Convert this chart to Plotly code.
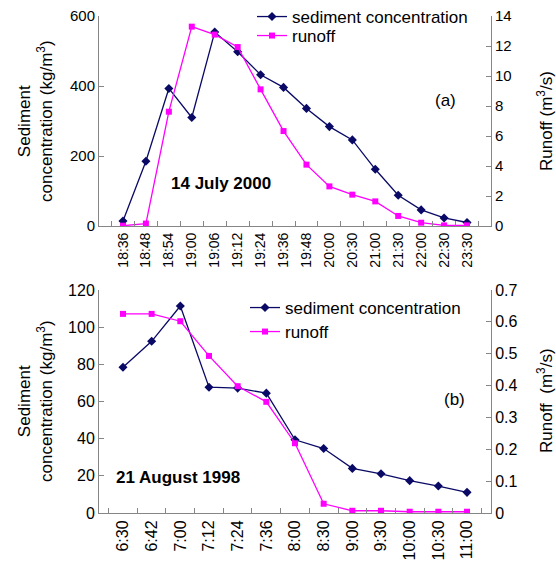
import plotly.graph_objects as go

# ---------------- data ----------------
times_a = ["18:36", "18:48", "18:54", "19:00", "19:06", "19:12", "19:24", "19:36",
           "19:48", "20:00", "20:30", "21:00", "21:30", "22:00", "22:30", "23:30"]
sediment_a = [14, 185, 393, 310, 554, 498, 432, 396, 336, 284, 246, 162, 88, 46, 23, 10]
runoff_a = [0.02, 0.16, 7.62, 13.29, 12.76, 11.93, 9.11, 6.33, 4.09, 2.64, 2.09, 1.64,
            0.67, 0.22, 0.04, 0.04]

times_b = ["6:30", "6:42", "7:00", "7:12", "7:24", "7:36", "8:00", "8:30", "9:00",
           "9:30", "10:00", "10:30", "11:00"]
sediment_b = [78.4, 92.4, 111.4, 67.7, 67.2, 64.5, 39.4, 34.7, 24.0, 21.1, 17.4, 14.5, 11.1]
runoff_b = [0.625, 0.625, 0.602, 0.493, 0.398, 0.349, 0.219, 0.029, 0.007, 0.007,
            0.004, 0.004, 0.004]

# ---------------- styling ----------------
NAVY = "#0a0a66"
MAG = "#ff00ff"
AXC = "#868686"
FONT = "Liberation Sans, Arial, sans-serif"

W, H = 556, 568
ML, MR, MT, MB = 99, 65, 16, 55
PW, PH = W - ML - MR, H - MT - MB


def px(x):
    return (x - ML) / PW


def py(y):
    return (H - MB - y) / PH


fig = go.Figure()

fig.add_trace(go.Scatter(x=times_a, y=sediment_a, name="sediment concentration",
                         mode="lines+markers", xaxis="x", yaxis="y",
                         line=dict(color=NAVY, width=1.3),
                         marker=dict(symbol="diamond", size=7, color=NAVY),
                         legend="legend"))
fig.add_trace(go.Scatter(x=times_a, y=runoff_a, name="runoff",
                         mode="lines+markers", xaxis="x", yaxis="y2",
                         line=dict(color=MAG, width=1.3),
                         marker=dict(symbol="square", size=6, color=MAG),
                         legend="legend2"))
fig.add_trace(go.Scatter(x=times_b, y=sediment_b, name="sediment concentration",
                         mode="lines+markers", xaxis="x2", yaxis="y3",
                         line=dict(color=NAVY, width=1.3),
                         marker=dict(symbol="diamond", size=7, color=NAVY),
                         legend="legend3"))
fig.add_trace(go.Scatter(x=times_b, y=runoff_b, name="runoff",
                         mode="lines+markers", xaxis="x2", yaxis="y4",
                         line=dict(color=MAG, width=1.3),
                         marker=dict(symbol="square", size=6, color=MAG),
                         legend="legend4"))

dom_a = [py(226), py(16)]
dom_b = [0, py(290)]

common_x = dict(type="category", tickson="boundaries", ticks="inside", ticklen=5,
                tickcolor=AXC, showline=True, linecolor=AXC, linewidth=1,
                showgrid=False, tickangle=-90, zeroline=False, automargin=False)
common_y = dict(ticks="inside", ticklen=5, tickcolor=AXC, showline=True,
                linecolor=AXC, linewidth=1, showgrid=False, zeroline=False,
                automargin=False)


def leg(x, top):
    return dict(x=px(x), y=py(top), xanchor="left", yanchor="top",
                font=dict(size=17), bgcolor="rgba(0,0,0,0)", itemwidth=30)


fig.update_layout(
    width=W, height=H,
    margin=dict(l=ML, r=MR, t=MT, b=MB, autoexpand=False),
    paper_bgcolor="white", plot_bgcolor="white",
    font=dict(family=FONT, color="black", size=14),
    xaxis=dict(domain=[0, 1], anchor="y", tickfont=dict(size=14), **common_x),
    yaxis=dict(domain=dom_a, anchor="x", range=[0, 600], dtick=200,
               tickfont=dict(size=15), **common_y),
    yaxis2=dict(domain=dom_a, anchor="x", overlaying="y", side="right",
                range=[0, 14], dtick=2, tickfont=dict(size=15), **common_y),
    xaxis2=dict(domain=[0, 1], anchor="y3", tickfont=dict(size=16), **common_x),
    yaxis3=dict(domain=dom_b, anchor="x2", range=[0, 120], dtick=20,
                tickfont=dict(size=16), **common_y),
    yaxis4=dict(domain=dom_b, anchor="x2", overlaying="y3", side="right",
                range=[0, 0.7], dtick=0.1, tickfont=dict(size=16), **common_y),
    legend=leg(252, -1),
    legend2=leg(252, 18),
    legend3=leg(245, 290),
    legend4=leg(245, 314),
    showlegend=True,
)

annots = [
    dict(text="<b>14 July 2000</b>", x=px(221), y=py(183), size=17),
    dict(text="(a)", x=px(445), y=py(100), size=17),
    dict(text="<b>21 August 1998</b>", x=px(178), y=py(477), size=17),
    dict(text="(b)", x=px(454), y=py(399), size=17),
]
for a in annots:
    fig.add_annotation(text=a["text"], x=a["x"], y=a["y"], xref="paper", yref="paper",
                       showarrow=False, xanchor="center", yanchor="middle",
                       font=dict(size=a["size"], family=FONT, color="black"))

# axis titles
titles = [
    ("Sediment<br>concentration (kg/m<sup>3</sup>)", 35, 121),
    ("Runoff (m<sup>3</sup>/s)", 545, 121),
    ("Sediment<br>concentration (kg/m<sup>3</sup>)", 35, 401),
    ("Runoff  (m<sup>3</sup>/s)", 545, 401),
]
for t, x, y in titles:
    fig.add_annotation(text=t, x=px(x), y=py(y), xref="paper", yref="paper",
                       showarrow=False, textangle=-90, xanchor="center", yanchor="middle",
                       font=dict(size=17, family=FONT, color="black"))

fig.write_html("out.html")
